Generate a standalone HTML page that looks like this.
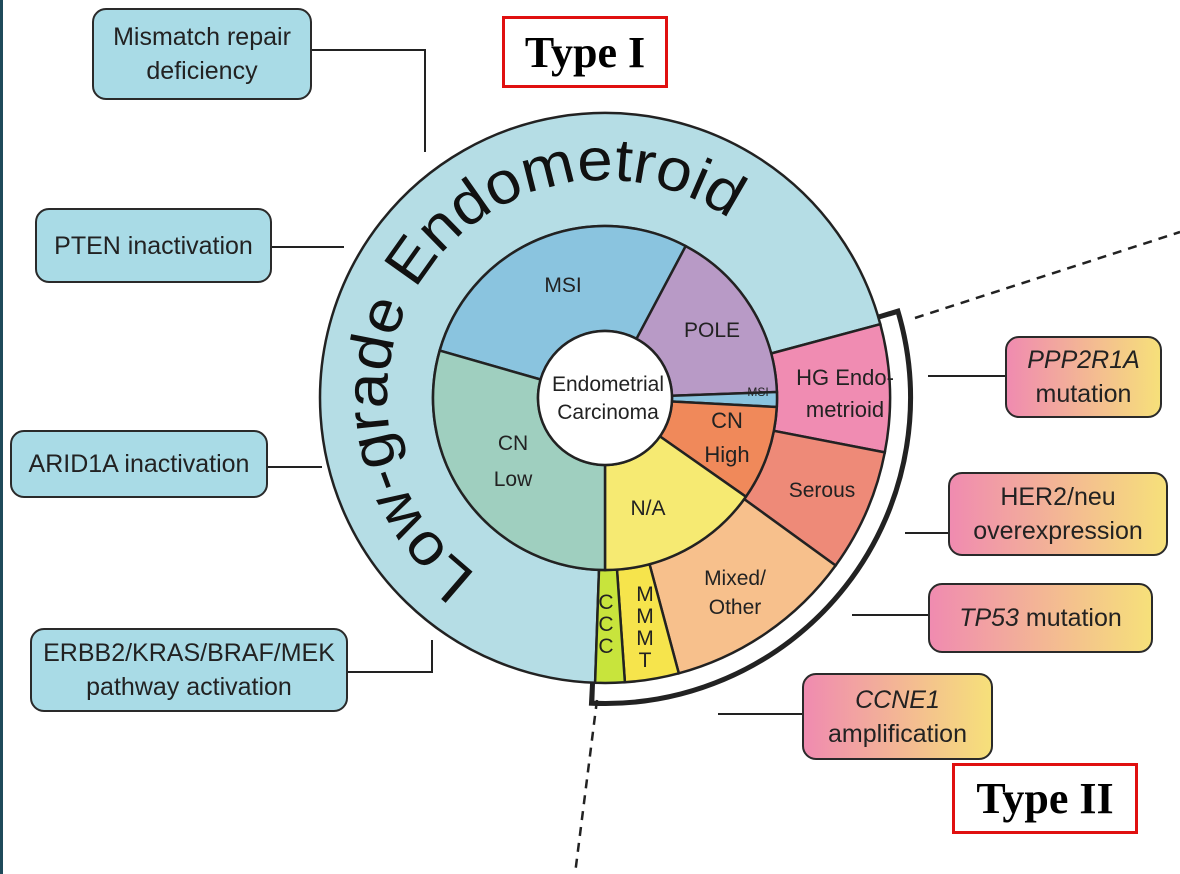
<!DOCTYPE html>
<html><head><meta charset="utf-8"><style>
html,body{margin:0;padding:0;background:#fff;}
body{width:1180px;height:874px;overflow:hidden;position:relative;font-family:"Liberation Sans",sans-serif;}
.box{position:absolute;box-sizing:border-box;border:2.5px solid #2a2a2a;border-radius:14px;display:flex;align-items:center;justify-content:center;text-align:center;font-size:25px;line-height:34px;color:#222;}
.b{background:#a9dbe6;}
.g{background:linear-gradient(90deg,#f08bb0,#f6e07a);}
.t{position:absolute;box-sizing:border-box;border:3px solid #e01010;font-family:"Liberation Serif",serif;font-weight:bold;font-size:44px;display:flex;align-items:center;justify-content:center;color:#000;}
</style></head><body>
<div style="position:absolute;left:0;top:0;width:3px;height:874px;background:#1f4a5a"></div>
<svg id="s" width="1180" height="874" style="position:absolute;left:0;top:0">
<g id="g"></g>
<g fill="none" stroke="#222" stroke-width="2">
<polyline points="312,50 425,50 425,152"/>
<line x1="272" y1="247" x2="344" y2="247"/>
<line x1="268" y1="467" x2="322" y2="467"/>
<polyline points="348,672 432,672 432,640"/>
<line x1="928" y1="376" x2="1005" y2="376"/>
<line x1="905" y1="533" x2="948" y2="533"/>
<line x1="852" y1="615" x2="928" y2="615"/>
<line x1="718" y1="714" x2="802" y2="714"/>
<line x1="915" y1="318" x2="1180" y2="232" stroke-dasharray="9,7" stroke-width="2.5"/>
<line x1="597" y1="700" x2="575" y2="874" stroke-dasharray="9,7" stroke-width="2.5"/>
</g>
<defs><path id="arc" d=""/></defs>
<text font-family="Liberation Sans,sans-serif" font-size="60" fill="#111"><textPath href="#arc" textLength="680" lengthAdjust="spacingAndGlyphs">Low-grade Endometroid</textPath></text>
<g font-family="Liberation Sans,sans-serif" font-size="21" fill="#222" text-anchor="middle">
<text x="563" y="292">MSI</text>
<text x="712" y="337">POLE</text>
<text x="758" y="396" font-size="12">MSI</text>
<text x="845" y="385" font-size="22">HG Endo-</text>
<text x="845" y="417" font-size="22">metrioid</text>
<text x="727" y="428" font-size="22">CN</text>
<text x="727" y="462" font-size="22">High</text>
<text x="822" y="497">Serous</text>
<text x="648" y="515">N/A</text>
<text x="513" y="450">CN</text>
<text x="513" y="486">Low</text>
<text x="735" y="585">Mixed/</text>
<text x="735" y="614">Other</text>
<text x="608" y="391">Endometrial</text>
<text x="608" y="419">Carcinoma</text>
<text x="645" y="601">M</text><text x="645" y="623">M</text><text x="645" y="645">M</text><text x="645" y="667">T</text>
<text x="606" y="609">C</text><text x="606" y="631">C</text><text x="606" y="653">C</text>
</g>
</svg>
<script>
var cx=605,cy=398,g=document.getElementById('g');
function P(r,a){a=a*Math.PI/180;return (cx+r*Math.cos(a)).toFixed(1)+','+(cy+r*Math.sin(a)).toFixed(1);}
function seg(r1,r2,a1,a2,f){var l=(a2-a1)>180?1:0;var d='M'+P(r1,a1)+' L'+P(r2,a1)+' A'+r2+','+r2+' 0 '+l+' 1 '+P(r2,a2)+' L'+P(r1,a2)+' A'+r1+','+r1+' 0 '+l+' 0 '+P(r1,a1)+'Z';
var p=document.createElementNS('http://www.w3.org/2000/svg','path');p.setAttribute('d',d);p.setAttribute('fill',f);p.setAttribute('stroke','#222');p.setAttribute('stroke-width','2.5');g.appendChild(p);}
function arcS(r,a1,a2,c,w){var p=document.createElementNS('http://www.w3.org/2000/svg','path');p.setAttribute('d','M'+P(r,a1)+' A'+r+','+r+' 0 0 1 '+P(r,a2));p.setAttribute('fill','none');p.setAttribute('stroke',c);p.setAttribute('stroke-width',w);g.appendChild(p);}
arcS(296,-17,93,'#222',24);arcS(294,-16,92,'#fff',18);
var R=285;
seg(172,R,92,345,'#b5dde5');
seg(172,R,-15,11,'#f08cb2');
seg(172,R,11,36,'#ee8a78');
seg(172,R,36,75,'#f7c08c');
seg(172,R,75,86,'#f6e44c');
seg(172,R,86,92,'#c8e43c');
seg(67,172,196,298,'#8ac4df');
seg(67,172,298,358,'#b89ac6');
seg(67,172,-2,3,'#8ac4df');
seg(67,172,3,35,'#f0895a');
seg(67,172,35,90,'#f6ea72');
seg(67,172,90,196,'#9fcfbf');
var c=document.createElementNS('http://www.w3.org/2000/svg','circle');c.setAttribute('cx',cx);c.setAttribute('cy',cy);c.setAttribute('r',67);c.setAttribute('fill','#fff');c.setAttribute('stroke','#222');c.setAttribute('stroke-width','2.5');g.appendChild(c);
document.getElementById('arc').setAttribute('d','M'+P(218,126)+' A218,218 0 0 1 '+P(218,306));
</script>
<div class="box b" style="left:92px;top:8px;width:220px;height:92px;">Mismatch repair<br>deficiency</div>
<div class="box b" style="left:35px;top:208px;width:237px;height:75px;">PTEN inactivation</div>
<div class="box b" style="left:10px;top:430px;width:258px;height:68px;">ARID1A inactivation</div>
<div class="box b" style="left:30px;top:628px;width:318px;height:84px;">ERBB2/KRAS/BRAF/MEK<br>pathway activation</div>
<div class="box g" style="left:1005px;top:336px;width:157px;height:82px;"><span><i>PPP2R1A</i><br>mutation</span></div>
<div class="box g" style="left:948px;top:472px;width:220px;height:84px;">HER2/neu<br>overexpression</div>
<div class="box g" style="left:928px;top:583px;width:225px;height:70px;"><span><i>TP53</i> mutation</span></div>
<div class="box g" style="left:802px;top:673px;width:191px;height:87px;"><span><i>CCNE1</i><br>amplification</span></div>
<div class="t" style="left:502px;top:16px;width:166px;height:72px;">Type I</div>
<div class="t" style="left:952px;top:763px;width:186px;height:71px;">Type II</div>
</body></html>
